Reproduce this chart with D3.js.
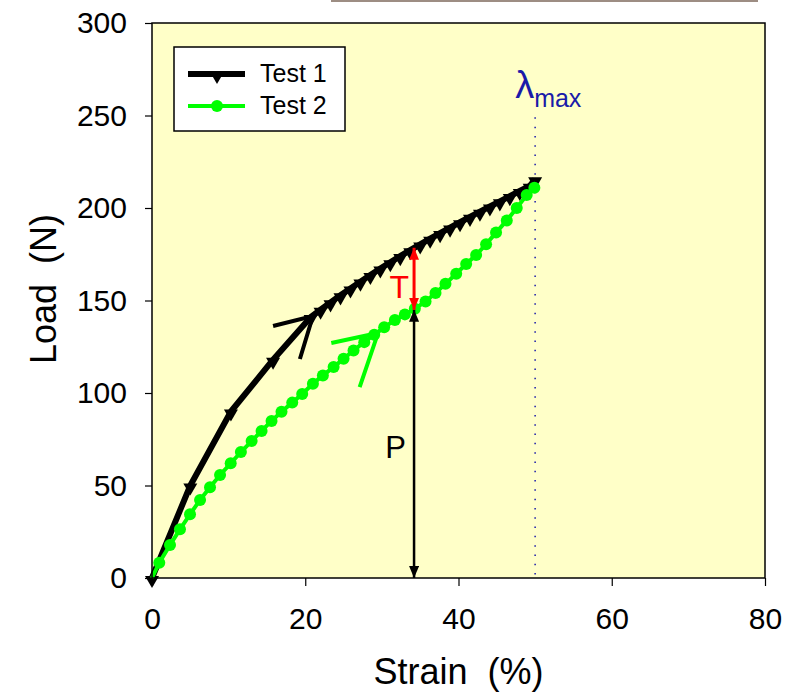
<!DOCTYPE html>
<html>
<head>
<meta charset="utf-8">
<script src="https://cdn.jsdelivr.net/npm/d3@7"></script>
<style>
    body { margin: 0; background: #ffffff; }
    text { font-family: "Liberation Sans", Arial, sans-serif; }
</style>
</head>
<body>
<div id="viz"></div>
<script>
//Datos
const test1Strain = [0, 5.0, 10.3, 15.8, 20.7, 22.0, 23.3, 24.6, 25.9, 27.2, 28.5, 29.8, 31.1, 32.4, 33.7, 35.0, 36.3, 37.6, 38.9, 40.2, 41.5, 42.8, 44.1, 45.4, 46.7, 48.0, 49.3, 50.0];
const test1Load = [0, 50, 90, 118, 141, 145, 149, 152.8, 156.5, 160.2, 163.8, 167.3, 170.7, 174, 177.2, 180.3, 183.4, 186.4, 189.4, 192.3, 195.2, 198, 200.8, 203.6, 206.4, 209.2, 212, 215.5];

const test2Strain = [0, 0.95, 2.35, 3.65, 4.96, 6.27, 7.57, 8.88, 10.27, 11.6, 13.0, 14.3, 15.6, 16.9, 18.3, 19.6, 21.0, 22.3, 23.7, 25.0, 26.3, 27.7, 29.0, 30.3, 31.7, 33.0, 34.3, 35.7, 37.0, 38.3, 39.7, 41.0, 42.3, 43.6, 44.9, 46.3, 47.6, 48.9, 49.9];
const test2Load = [0, 8.3, 17.8, 26.3, 34.4, 42.2, 49, 55.7, 62, 68.1, 74, 79.5, 84.9, 89.9, 94.8, 99.5, 105, 109.5, 114, 118.5, 123, 127.5, 131.5, 135.5, 139.5, 142.5, 145.5, 149.5, 154, 159, 164.5, 169.7, 174.6, 180.4, 186.7, 193.3, 200, 207, 211];

const xTicks = [0, 20, 40, 60, 80];
const yTicks = [0, 50, 100, 150, 200, 250, 300];
const seriesNames = ['Test 1', 'Test 2'];

//Anotaciones (en unidades de datos)
const lambdaMax = 50;
const arrowStrain = 34.2, loadP = 145, loadTop = 178.5;
const chevron1 = [[15.8, 136.2], [21.0, 141.6], [19.3, 118.4]];
const chevron2 = [[23.4, 127.0], [29.5, 132.4], [27.1, 103.2]];

const COLOR_T1 = '#000000', COLOR_T2 = '#00ff00', COLOR_BG = '#ffffc8', COLOR_LAMBDA = '#1a1aa8';

let width = 796, height = 696;

let svg = d3.select('#viz')
    .append('svg')
        .attr('width', width)
        .attr('height', height);

let x = d3.scaleLinear().domain([0, 80]).range([152, 765]);
let y = d3.scaleLinear().domain([0, 300]).range([578, 23]);

//Linea gris superior
svg.append('line')
    .attr('x1', 331).attr('x2', 758)
    .attr('y1', 1).attr('y2', 1)
    .attr('stroke', '#9d8d83')
    .attr('stroke-width', 2);

//Fondo del área
svg.append('rect')
    .attr('x', x(0))
    .attr('y', y(300))
    .attr('width', x(80) - x(0))
    .attr('height', y(0) - y(300))
    .attr('fill', COLOR_BG);

//Ejes
svg.append('g')
    .attr('transform', 'translate(0,' + y(0) + ')')
    .call(d3.axisBottom(x).tickValues(xTicks).tickSize(8).tickPadding(22).tickSizeOuter(0))
    .call(function(g) {
        g.select('.domain').remove();
        g.selectAll('line').attr('stroke', '#000').attr('stroke-width', 1.2);
        g.selectAll('text').attr('font-size', 30).attr('fill', '#000').attr('font-family', '"Liberation Sans", Arial, sans-serif');
    });

svg.append('g')
    .attr('transform', 'translate(' + x(0) + ',0)')
    .call(d3.axisLeft(y).tickValues(yTicks).tickSize(7).tickPadding(18).tickSizeOuter(0))
    .call(function(g) {
        g.select('.domain').remove();
        g.selectAll('line').attr('stroke', '#000').attr('stroke-width', 1.2);
        g.selectAll('text').attr('font-size', 30).attr('fill', '#000').attr('font-family', '"Liberation Sans", Arial, sans-serif');
    });

svg.append('text')
    .attr('x', (x(0) + x(80)) / 2)
    .attr('y', 684)
    .attr('text-anchor', 'middle')
    .attr('font-size', 36)
    .style('white-space', 'pre')
    .text('Strain  (%)');

svg.append('text')
    .attr('transform', 'translate(56,289) rotate(-90)')
    .attr('text-anchor', 'middle')
    .attr('font-size', 36)
    .style('white-space', 'pre')
    .text('Load  (N)');

//Linea lambda max
svg.append('line')
    .attr('x1', x(lambdaMax)).attr('x2', x(lambdaMax))
    .attr('y1', y(249)).attr('y2', y(0))
    .attr('stroke', COLOR_LAMBDA)
    .attr('stroke-width', 1.5)
    .attr('stroke-dasharray', '1.5,7.8');

let lambdaLabel = svg.append('text')
    .attr('x', x(lambdaMax) - 20)
    .attr('y', 98)
    .attr('fill', COLOR_LAMBDA);
lambdaLabel.append('tspan').attr('font-size', 38).text('λ');
lambdaLabel.append('tspan').attr('font-size', 25).attr('dy', 9).text('max');

//Marcadores de flecha
let defs = svg.append('defs');
[['headBlack', '#000'], ['headRed', '#ff0000']].forEach(function(m) {
    defs.append('marker')
        .attr('id', m[0])
        .attr('viewBox', '0 0 12 10')
        .attr('refX', 12)
        .attr('refY', 5)
        .attr('markerWidth', 12)
        .attr('markerHeight', 10)
        .attr('markerUnits', 'userSpaceOnUse')
        .attr('orient', 'auto-start-reverse')
        .append('path')
            .attr('d', 'M0,0L12,5L0,10Z')
            .attr('fill', m[1]);
});

let line = d3.line()
    .x(function(d) { return x(d[0]); })
    .y(function(d) { return y(d[1]); });

let data1 = test1Strain.map(function(d, i) { return [d, test1Load[i]]; });
let data2 = test2Strain.map(function(d, i) { return [d, test2Load[i]]; });

//Test 1
svg.append('path')
    .datum(data1)
    .attr('d', line)
    .attr('fill', 'none')
    .attr('stroke', COLOR_T1)
    .attr('stroke-width', 6)
    .attr('stroke-linejoin', 'round');

let tri = d3.symbol().type(d3.symbolTriangle).size(85);
svg.selectAll('.tri')
    .data(data1)
    .enter()
    .append('path')
    .attr('class', 'tri')
    .attr('d', tri)
    .attr('fill', COLOR_T1)
    .attr('transform', function(d) { return 'translate(' + x(d[0]) + ',' + (y(d[1]) + 2) + ') rotate(180)'; });

//Test 2
svg.append('path')
    .datum(data2)
    .attr('d', line)
    .attr('fill', 'none')
    .attr('stroke', COLOR_T2)
    .attr('stroke-width', 4);

svg.selectAll('.dot')
    .data(data2.slice(1))
    .enter()
    .append('circle')
    .attr('class', 'dot')
    .attr('cx', function(d) { return x(d[0]); })
    .attr('cy', function(d) { return y(d[1]); })
    .attr('r', 6)
    .attr('fill', COLOR_T2);

//Flechas chevron
let chev = d3.line()
    .x(function(d) { return x(d[0]); })
    .y(function(d) { return y(d[1]); });

svg.append('path')
    .attr('d', chev(chevron1))
    .attr('fill', 'none')
    .attr('stroke', COLOR_T1)
    .attr('stroke-width', 4);

svg.append('path')
    .attr('d', chev(chevron2))
    .attr('fill', 'none')
    .attr('stroke', COLOR_T2)
    .attr('stroke-width', 4);

//Flecha P
svg.append('line')
    .attr('x1', x(arrowStrain)).attr('x2', x(arrowStrain))
    .attr('y1', y(0)).attr('y2', y(loadP))
    .attr('stroke', '#000')
    .attr('stroke-width', 2.5)
    .attr('marker-start', 'url(#headBlack)')
    .attr('marker-end', 'url(#headBlack)');

svg.append('text')
    .attr('x', x(arrowStrain) - 8)
    .attr('y', 458)
    .attr('text-anchor', 'end')
    .attr('font-size', 31)
    .text('P');

//Flecha T
svg.append('line')
    .attr('x1', x(arrowStrain)).attr('x2', x(arrowStrain))
    .attr('y1', y(loadP)).attr('y2', y(loadTop))
    .attr('stroke', '#ff0000')
    .attr('stroke-width', 3)
    .attr('marker-start', 'url(#headRed)')
    .attr('marker-end', 'url(#headRed)');

svg.append('text')
    .attr('x', x(arrowStrain) - 5)
    .attr('y', 298)
    .attr('text-anchor', 'end')
    .attr('font-size', 32)
    .attr('fill', '#ff0000')
    .text('T');

//Borde del área
svg.append('rect')
    .attr('x', x(0))
    .attr('y', y(300))
    .attr('width', x(80) - x(0))
    .attr('height', y(0) - y(300))
    .attr('fill', 'none')
    .attr('stroke', '#000')
    .attr('stroke-width', 1.5);

//Leyenda
let legend = svg.append('g').attr('transform', 'translate(174,47)');
legend.append('rect')
    .attr('width', 171)
    .attr('height', 84)
    .attr('fill', '#ffffff')
    .attr('stroke', '#000')
    .attr('stroke-width', 1.5);

legend.append('line').attr('x1', 14).attr('x2', 71).attr('y1', 27).attr('y2', 27)
    .attr('stroke', COLOR_T1).attr('stroke-width', 6);
legend.append('path').attr('d', tri).attr('fill', COLOR_T1)
    .attr('transform', 'translate(43,29) rotate(180)');
legend.append('line').attr('x1', 14).attr('x2', 71).attr('y1', 59).attr('y2', 59)
    .attr('stroke', COLOR_T2).attr('stroke-width', 4);
legend.append('circle').attr('cx', 43).attr('cy', 59).attr('r', 6).attr('fill', COLOR_T2);

legend.selectAll('.ltext')
    .data(seriesNames)
    .enter()
    .append('text')
    .attr('class', 'ltext')
    .attr('x', 86)
    .attr('y', function(d, i) { return 35 + i * 32; })
    .attr('font-size', 25)
    .text(function(d) { return d; });
</script>
</body>
</html>
